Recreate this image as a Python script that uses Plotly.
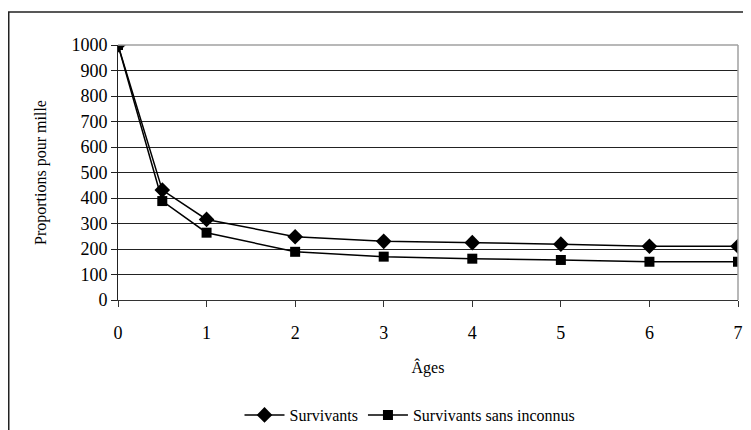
import plotly.graph_objects as go

ages = [0, 0.5, 1, 2, 3, 4, 5, 6, 7]
survivants = [1000, 431, 316, 248, 230, 225, 219, 211, 211]
survivants_sans_inconnus = [1000, 388, 264, 189, 170, 162, 157, 150, 150]
y_ticks = list(range(0, 1001, 100))
x_ticks = list(range(0, 8))

FONT = "Liberation Serif, Times New Roman, serif"

fig = go.Figure()
fig.add_trace(go.Scatter(
    x=ages, y=survivants, name="Survivants", mode="lines+markers",
    line=dict(color="black", width=1.5),
    marker=dict(symbol="diamond", size=12, color="black"),
))
fig.add_trace(go.Scatter(
    x=ages, y=survivants_sans_inconnus, name="Survivants sans inconnus",
    mode="lines+markers",
    line=dict(color="black", width=1.5),
    marker=dict(symbol="square", size=10, color="black"),
))

# page body has an 8px default margin: figure coordinates = page - 8
OFF = 8
W, H = 751 - OFF, 430 - OFF
L, T = 118 - OFF, 45 - OFF
R = W - (738 - OFF)
B = H - (300 - OFF)
pw = W - L - R
ph = H - T - B

def px_x(page_px):
    return (page_px - OFF - L) / pw

def px_y(page_py):
    return (H - B - (page_py - OFF)) / ph

fig.update_layout(
    width=W, height=H,
    margin=dict(l=L, r=R, t=T, b=B, autoexpand=False),
    paper_bgcolor="white", plot_bgcolor="white",
    font=dict(family=FONT, size=16, color="black"),
    showlegend=True,
    legend=dict(orientation="h", x=px_x(410), xanchor="center",
                y=px_y(415), yanchor="middle",
                font=dict(size=16), itemwidth=40, tracegroupgap=0),
    xaxis=dict(range=[0, 7], tickvals=x_ticks, showgrid=False,
               showline=True, linecolor="#333", linewidth=1,
               ticks="outside", ticklen=6, tickcolor="#333",
               zeroline=False, mirror=False, automargin=False,
               tickfont=dict(size=18), ticklabelstandoff=10,
               title=dict(text="Âges", font=dict(size=16), standoff=20)),
    yaxis=dict(range=[0, 1000], tickvals=y_ticks, showgrid=True,
               gridcolor="#222", gridwidth=1,
               showline=True, linecolor="#222", linewidth=1,
               ticks="outside", ticklen=6, tickcolor="#222",
               zeroline=False, automargin=False,
               tickfont=dict(size=18),
               title=dict(text="Proportions pour mille", font=dict(size=16), standoff=20)),
    shapes=[
        dict(type="line", xref="paper", yref="paper", x0=0, x1=1, y0=1, y1=1,
             line=dict(color="#a0a0a0", width=1.5)),
        dict(type="line", xref="paper", yref="paper", x0=1, x1=1, y0=0, y1=1,
             line=dict(color="#a0a0a0", width=1.5)),
        dict(type="rect", xref="paper", yref="paper",
             x0=px_x(8.75), x1=px_x(770),
             y0=px_y(450), y1=px_y(12),
             line=dict(color="#222", width=1.5), layer="below"),
    ],
)

fig.write_html("out.html")
